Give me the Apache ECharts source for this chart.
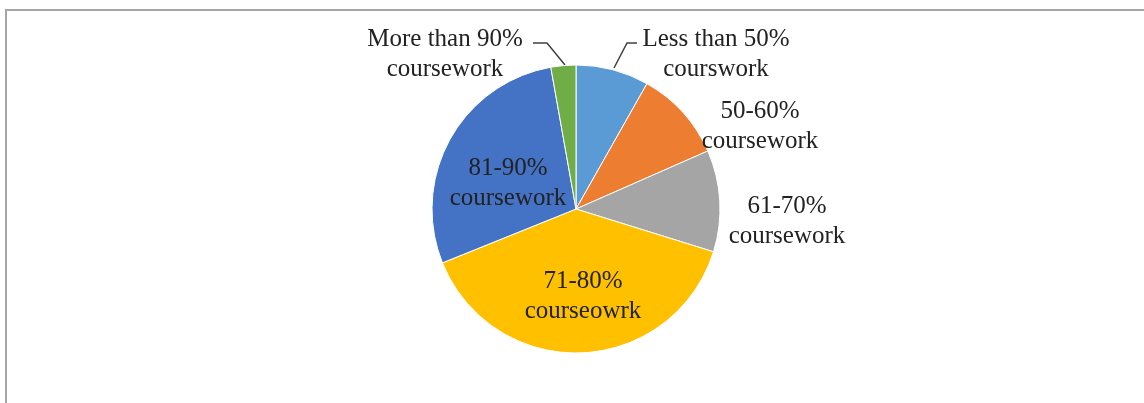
<!DOCTYPE html>
<html>
<head>
<meta charset="utf-8">
<script src="https://cdn.jsdelivr.net/npm/echarts@6/dist/echarts.min.js"></script>
<style>
  html, body { margin: 0; padding: 0; background: #ffffff; }
  #chart { width: 1144px; height: 403px; }
</style>
</head>
<body>
<div id="chart"></div>
<script>
// Share of assessment weighted to coursework (percent of programmes)
const categories = [
  'Less than 50%\ncourswork',
  '50-60%\ncoursework',
  '61-70%\ncoursework',
  '71-80%\ncourseowrk',
  '81-90%\ncoursework',
  'More than 90%\ncoursework'
];
const shares = [8.2, 10.2, 11.4, 39.1, 28.3, 2.8];
const sliceColors = ['#5B9BD5', '#ED7D31', '#A5A5A5', '#FFC000', '#4472C4', '#70AD47'];

// Where each label block sits (centre, px) and optional leader lines
const labelSpots = [
  { x: 716, y: 54, line: [[614, 68], [627, 43], [637, 43]] },
  { x: 760, y: 126 },
  { x: 787, y: 221 },
  { x: 583, y: 296 },
  { x: 508, y: 183 },
  { x: 445, y: 54, line: [[565, 65], [547, 43], [533, 43]] }
];

const chart = echarts.init(document.getElementById('chart'), null, { renderer: 'canvas' });

const data = categories.map((name, i) => ({
  name: name,
  value: shares[i],
  itemStyle: { color: sliceColors[i] },
  labelLine: { show: !!labelSpots[i].line }
}));

chart.setOption({
  animation: false,
  backgroundColor: '#ffffff',
  graphic: [{
    type: 'polyline',
    shape: { points: [[6, 403], [6, 10], [1144, 10]] },
    style: { stroke: '#a6a6a6', lineWidth: 2, fill: null }
  }],
  series: [{
    type: 'pie',
    center: [576, 209],
    radius: 144,
    startAngle: 90,
    clockwise: true,
    data: data,
    itemStyle: { borderColor: '#ffffff', borderWidth: 1 },
    label: {
      show: true,
      position: 'outside',
      formatter: '{b}',
      fontFamily: '"Liberation Serif", "Times New Roman", serif',
      fontSize: 25,
      lineHeight: 30,
      color: '#222222',
      align: 'center'
    },
    labelLine: {
      show: true,
      length: 10,
      length2: 10,
      lineStyle: { color: '#404040', width: 1.5 }
    },
    labelLayout: function (params) {
      const spot = labelSpots[params.dataIndex];
      const out = {
        x: spot.x,
        y: spot.y,
        align: 'center',
        verticalAlign: 'middle',
        hideOverlap: false,
        moveOverlap: false
      };
      if (spot.line) out.labelLinePoints = spot.line;
      return out;
    }
  }]
});
</script>
</body>
</html>
